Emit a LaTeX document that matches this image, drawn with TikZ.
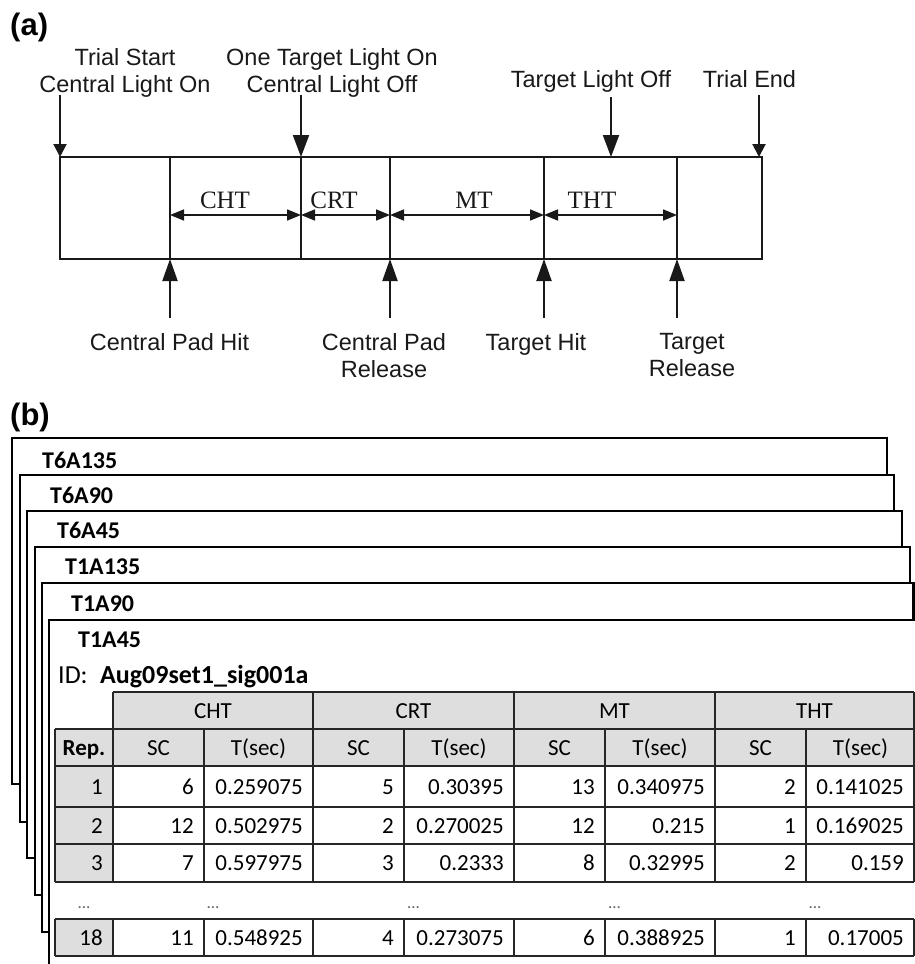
\documentclass[tikz,border=0pt]{standalone}
\usepackage{fontspec}
\setmainfont{Liberation Sans}
\newfontfamily\serifA{Liberation Serif}
\newfontfamily\calib{Carlito}
\usetikzlibrary{arrows.meta}
\begin{document}
\begin{tikzpicture}[x=1pt,y=-1pt,
  lab/.style={font=\fontsize{23.5}{27}\selectfont, inner sep=0pt, align=center, text=black!90},
  plab/.style={font=\bfseries\fontsize{31}{31}\selectfont, inner sep=0pt, anchor=base west},
  dimlab/.style={font=\serifA\fontsize{25}{28}\selectfont, inner sep=0pt, anchor=base, text=black!90},
  tline/.style={line width=2pt, line cap=rect, black!90},
  dnbig/.style={line width=2pt, black!90, -{Triangle[length=22pt,width=16pt]}},
  dnsmall/.style={line width=2pt, black!90, -{Triangle[length=13pt,width=13pt]}},
  upar/.style={line width=2pt, black!90, -{Triangle[length=22pt,width=15pt]}},
  dimar/.style={line width=1.6pt, black!90, {Triangle[length=14pt,width=11pt]}-{Triangle[length=14pt,width=11pt]}},
  frame/.style={line width=2.6pt, black, fill=white},
  flab/.style={font=\calib\bfseries\fontsize{24}{28}\selectfont, inner sep=0pt, anchor=base west},
  idlab/.style={font=\calib\fontsize{26}{30}\selectfont, inner sep=0pt, anchor=base west},
  grid/.style={line width=2pt, black!85},
  hfill/.style={fill=black!13},
  cell/.style={font=\calib\fontsize{23}{27}\selectfont, inner sep=0pt},
  dots/.style={font=\calib\fontsize{17}{20}\selectfont, inner sep=0pt, anchor=base, text=black!60}
]
\useasboundingbox (0,0) rectangle (915,964);

% ---------------- (a) ----------------
\node[plab] (pa) at (10,35) {(a)};

\foreach \n/\x in {0/60,1/170,2/301,3/390,4/544,5/677,6/762} {
  \coordinate (t\n) at (\x,157);
  \coordinate (b\n) at (\x,259);
  \coordinate (m\n) at (\x,215);
}
\draw[tline] (t0) -- (t6);
\draw[tline] (b0) -- (b6);
\foreach \n in {0,...,6} \draw[tline] (t\n) -- (b\n);

% top labels
\node[lab, anchor=north] (ts) at (125,48) {Trial Start\\Central Light On};
\node[lab, anchor=north] (tl) at (332,48) {One Target Light On\\Central Light Off};
\node[lab, anchor=base] (tlo) at (591,87) {Target Light Off};
\node[lab, anchor=base] (te) at (749.5,87) {Trial End};

% down arrows
\coordinate (s0) at (60,95);
\coordinate (s2) at (301,95);
\coordinate (sL) at (611,97);
\coordinate (eL) at (611,157);
\coordinate (sE) at (759,95);
\coordinate (eE) at (759,157);
\draw[dnsmall] (s0) -- (t0);
\draw[dnbig] (s2) -- (t2);
\draw[dnbig] (sL) -- (eL);
\draw[dnsmall] (sE) -- (eE);

% dimension arrows and labels
\draw[dimar] (m1) -- (m2);
\draw[dimar] (m2) -- (m3);
\draw[dimar] (m3) -- (m4);
\draw[dimar] (m4) -- (m5);
\node[dimlab] (cht) at (225,208) {CHT};
\node[dimlab] (crt) at (334,208) {CRT};
\node[dimlab] (mt) at (474,208) {MT};
\node[dimlab] (tht) at (592,208) {THT};

% up arrows
\foreach \n/\x in {1/170,3/390,4/544,5/677} {
  \coordinate (u\n) at (\x,318);
  \draw[upar] (u\n) -- (b\n);
}
\node[lab, anchor=base] (cph) at (169.5,350) {Central Pad Hit};
\node[lab, anchor=north] (cpr) at (384,333) {Central Pad\\Release};
\node[lab, anchor=base] (th) at (536,350) {Target Hit};
\node[lab, anchor=north] (tr) at (692,333) {Target\\Release};

% ---------------- (b) ----------------
\node[plab] (pb) at (10,425) {(b)};

\draw[frame] (12,438) rectangle (887,784);
\node[flab] (f1) at (42,468) {T6A135};
\draw[frame] (20,475) rectangle (894,822);
\node[flab] (f2) at (50,503) {T6A90};
\draw[frame] (27,511) rectangle (902,858);
\node[flab] (f3) at (57,538) {T6A45};
\draw[frame] (35,547) rectangle (910,895);
\node[flab] (f4) at (65,574) {T1A135};
\draw[frame] (42,583) rectangle (913.5,932);
\node[flab] (f5) at (71,611) {T1A90};
\draw[frame] (49,620) rectangle (940,990);
\node[flab] (f6) at (78,647) {T1A45};

\node[idlab] (idl) at (58,683) {ID:};
\node[idlab, font=\calib\bfseries\fontsize{26}{30}\selectfont] (idv) at (100,683) {Aug09set1\_sig001a};

% table fills
\fill[hfill] (113,692) rectangle (914,729);
\fill[hfill] (55,729) rectangle (914,766);
\fill[hfill] (55,766) rectangle (113,882);
\fill[hfill] (55,919) rectangle (113,956);

% table grid
\draw[grid] (113,692) -- (914,692);
\draw[grid] (55,729) -- (914,729);
\foreach \y in {766,807,844,882,919,956} \draw[grid] (55,\y) -- (914,\y);
\foreach \x in {113,313,514,715,914} \draw[grid] (\x,692) -- (\x,729);
\foreach \x in {55,113,204,313,404,514,605,715,806,914} {
  \draw[grid] (\x,729) -- (\x,882);
  \draw[grid] (\x,919) -- (\x,956);
}

% group headers
\foreach \t/\x [count=\i] in {CHT/213,CRT/413.5,MT/614.5,THT/814.5}
  \node[cell, anchor=base] (g\i) at (\x,718) {\t};
% column headers
\node[cell, anchor=base, font=\calib\bfseries\fontsize{23}{27}\selectfont] (h1) at (84,755) {Rep.};
\foreach \t/\x [count=\i from 2] in {SC/158.5,T(sec)/258.5,SC/358.5,T(sec)/459,SC/559.5,T(sec)/660,SC/760.5,T(sec)/860.5}
  \node[cell, anchor=base] (h\i) at (\x,755) {\t};

% data rows
\foreach \r/\yb/\vals in {1/794/{1,6,0.259075,5,0.30395,13,0.340975,2,0.141025},
                         2/833/{2,12,0.502975,2,0.270025,12,0.215,1,0.169025},
                         3/870.5/{3,7,0.597975,3,0.2333,8,0.32995,2,0.159},
                         18/945/{18,11,0.548925,4,0.273075,6,0.388925,1,0.17005}} {
  \foreach \v [count=\i] in \vals {
    \pgfmathsetmacro\xr{{113,204,313,404,514,605,715,806,914}[\i-1]-10}
    \node[cell, anchor=base east] (r\r c\i) at (\xr,\yb) {\v};
  }
}

% ellipsis row
\foreach \x [count=\i] in {84,213,413.5,614.5,815}
  \node[dots] (dd\i) at (\x,908) {...};

\end{tikzpicture}
\end{document}
